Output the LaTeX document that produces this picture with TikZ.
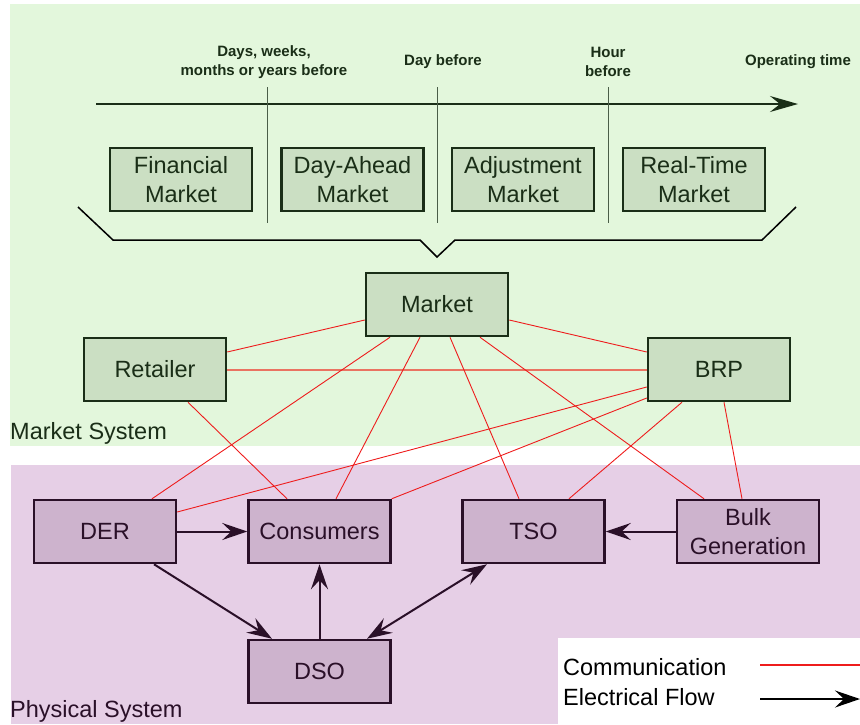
\documentclass[tikz,border=0pt]{standalone}
\usepackage{fontspec}
\setmainfont{Liberation Sans}
\usetikzlibrary{arrows.meta}
\definecolor{mktbg}{HTML}{E3F7DC}
\definecolor{mktfill}{HTML}{CBDFC3}
\definecolor{mktline}{HTML}{1A2E17}
\definecolor{physbg}{HTML}{E6CFE6}
\definecolor{physfill}{HTML}{CDB3CD}
\definecolor{physline}{HTML}{2A1028}
\definecolor{commred}{HTML}{EE1C1C}
\definecolor{commpink}{HTML}{EA7362}
\definecolor{tickgray}{HTML}{4A5E48}
\begin{document}
\begin{tikzpicture}[x=1pt,y=-1pt,
    bigtext/.style={font=\fontsize{23.5}{28.5}\selectfont},
    mktbox/.style={draw=mktline, fill=mktfill, line width=2.5pt, minimum width=142pt,
        minimum height=63pt, align=center, text=mktline, bigtext, inner sep=0pt},
    physbox/.style={draw=physline, fill=physfill, line width=2.5pt, minimum width=142pt,
        minimum height=63pt, align=center, text=physline, bigtext, inner sep=0pt},
    timelabel/.style={font=\bfseries\fontsize{15}{19}\selectfont, text=mktline, align=center},
    comm/.style={draw=commred, line width=0.9pt},
    flow/.style={draw=physline, line width=2pt, -{Stealth[length=25pt,width=17pt,inset=9pt]}}]
    \useasboundingbox (0,0) rectangle (860,724);
    % backgrounds
    \fill[mktbg] (10,4) rectangle (860,446);
    \fill[physbg] (11,465) rectangle (860,724);
    \fill[white] (558,638) rectangle (860,724);
    % timeline
    \coordinate (tstart) at (96,104);
    \coordinate (tend) at (798,104);
    \path[draw, line width=1.5pt, mktline, -{Stealth[length=28pt,width=16pt,inset=10pt]}] (tstart) -- (tend);
    \foreach \x in {267,437,608}
        \draw[tickgray, line width=1pt] (\x,87) -- (\x,223);
    \node[timelabel] (tl1) at (264,62) {Days, weeks,\\months or years before};
    \node[timelabel] (tl2) at (443,62) {Day before};
    \node[timelabel] (tl3) at (608,62) {Hour\\before};
    \node[timelabel] (tl4) at (798,62) {Operating time};
    \node[mktbox] (fin) at (181,179.5) {Financial\\Market};
    \node[mktbox] (dah) at (352.5,179.5) {Day-Ahead\\Market};
    \node[mktbox] (adj) at (523,179.5) {Adjustment\\Market};
    \node[mktbox] (rt) at (694,179.5) {Real-Time\\Market};
    % bracket
    \draw[black, line width=1.5pt] (78,207) -- (113,240) -- (420,240) -- (437,257)
        -- (455,240) -- (762,240) -- (796,207);
    % market system
    \node[mktbox] (market) at (437,304.5) {Market};
    \node[mktbox] (retailer) at (155,369.5) {Retailer};
    \node[mktbox] (brp) at (719,369.5) {BRP};
    \node[bigtext, text=mktline, anchor=west, inner sep=0pt] (mktsys) at (10,433) {Market System};
    % physical system
    \node[physbox] (der) at (105,531.5) {DER};
    \node[physbox] (cons) at (319.5,531.5) {Consumers};
    \node[physbox] (tso) at (533.5,531.5) {TSO};
    \node[physbox] (bulk) at (748,531.5) {Bulk\\Generation};
    \node[physbox] (dso) at (319.5,671.5) {DSO};
    \node[bigtext, text=physline, anchor=west, inner sep=0pt] (physsys) at (10,711) {Physical System};
    % communication
    \path[comm] ([yshift=-15.5pt]market.west) -- ([yshift=17.5pt]retailer.east);
    \path[comm] ([yshift=-15.5pt]market.east) -- ([yshift=17.5pt]brp.west);
    \path[draw=commpink, line width=2pt] (retailer.east) -- (brp.west);
    \path[comm] ([xshift=-47pt]market.south) -- ([xshift=47pt]der.north);
    \path[comm] ([xshift=-17pt]market.south) -- ([xshift=16.5pt]cons.north);
    \path[comm] ([xshift=13pt]market.south) -- ([xshift=-14.5pt]tso.north);
    \path[comm] ([xshift=43pt]market.south) -- ([xshift=-44pt]bulk.north);
    \path[comm] ([xshift=33pt]retailer.south) -- ([xshift=-32.5pt]cons.north);
    \path[comm] ([yshift=-17.5pt]brp.west) -- ([yshift=19.5pt]der.east);
    \path[comm] ([yshift=-28.5pt]brp.west) -- (cons.north east);
    \path[comm] ([xshift=-37pt]brp.south) -- ([xshift=35.5pt]tso.north);
    \path[comm] ([xshift=5pt]brp.south) -- ([xshift=-6pt]bulk.north);
    % electrical flow
    \path[flow] (der.east) -- (cons.west);
    \path[flow] ([xshift=49pt]der.south) -- ([xshift=-47.5pt]dso.north);
    \path[flow] (dso.north) -- (cons.south);
    \path[flow, {Stealth[length=25pt,width=17pt,inset=9pt]}-{Stealth[length=25pt,width=17pt,inset=9pt]}]
        ([xshift=-46.5pt]tso.south) -- ([xshift=47.5pt]dso.north);
    \path[flow] (bulk.west) -- (tso.east);
    % legend
    \node[bigtext, anchor=west, inner sep=0pt] (lcomm) at (563,667) {Communication};
    \node[bigtext, anchor=west, inner sep=0pt] (lflow) at (563,697) {Electrical Flow};
    \coordinate (lc1) at (760,665);
    \coordinate (lc2) at (860,665);
    \coordinate (lf1) at (760,699);
    \coordinate (lf2) at (860,699);
    \path[draw=commred, line width=1.3pt] (lc1) -- (lc2);
    \path[draw=black, line width=2pt, -{Stealth[length=25pt,width=17pt,inset=9pt]}] (lf1) -- (lf2);
\end{tikzpicture}
\end{document}
